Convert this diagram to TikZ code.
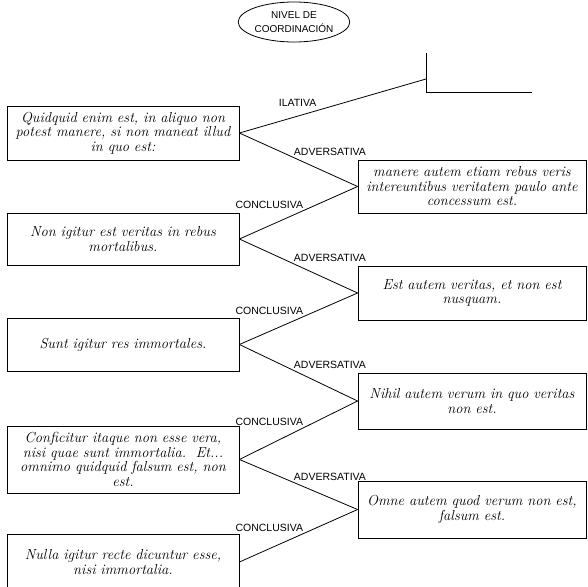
\documentclass[tikz,border=0pt]{standalone}
\usepackage{fontspec}
\newfontfamily\etiqfont{Liberation Sans}
\usetikzlibrary{shapes.geometric, positioning}

\begin{document}
\begin{tikzpicture}[x=1pt, y=-1pt,
    texto/.style={draw, rectangle, line width=0.8pt, align=center, inner sep=0pt,
        font=\fontsize{14.5}{14.5}\selectfont\itshape},
    izq/.style={texto, minimum width=232pt, text width=226pt},
    der/.style={texto, minimum width=228pt, text width=222pt},
    etiq/.style={font=\etiqfont\fontsize{10.5}{12}\selectfont, inner sep=1pt},
    nivel/.style={draw, ellipse, line width=0.8pt, minimum width=105pt, minimum height=40pt,
        inner sep=0pt, align=center, font=\etiqfont\fontsize{10}{14}\selectfont},
    rel/.style={line width=0.8pt}]
                        \useasboundingbox (0, 0) rectangle (588, 586);

                        \node[nivel] (nivel) at (294, 22) {NIVEL DE\\COORDINACIÓN};

                        % columna izquierda
                        \node[izq, minimum height=54pt] (q1) at (123, 133) {Quidquid enim est, in aliquo non\\potest manere, si non maneat illud\\in quo est:};
                        \node[izq, minimum height=52pt] (q2) at (123, 239) {Non igitur est veritas in rebus\\mortalibus.};
                        \node[izq, minimum height=53pt] (q3) at (123, 344.5) {Sunt igitur res immortales.};
                        \node[izq, minimum height=67pt] (q4) at (123, 459.5) {Conficitur itaque non esse vera,\\nisi quae sunt immortalia.\ \ Et...\\omnimo quidquid falsum est, non\\est.};
                        \node[izq, minimum height=56pt] (q5) at (123, 562) {Nulla igitur recte dicuntur esse,\\nisi immortalia.};

                        % columna derecha
                        \node[der, minimum height=53pt] (r1) at (472, 186.5) {manere autem etiam rebus veris\\intereuntibus veritatem paulo ante\\concessum est.};
                        \node[der, minimum height=54pt] (r2) at (472, 293) {Est autem veritas, et non est\\nusquam.};
                        \node[der, minimum height=56pt] (r3) at (472, 401) {Nihil autem verum in quo veritas\\non est.};
                        \node[der, minimum height=57pt] (r4) at (472, 509.5) {Omne autem quod verum non est,\\falsum est.};

                        % corchete de arriba
                        \coordinate (ctop) at (426, 53);
                        \coordinate (cila) at (426, 79);
                        \coordinate (cesq) at (426, 92);
                        \coordinate (cfin) at (532, 92);
                        \draw[rel] (ctop) -- (cesq) -- (cfin);

                        \draw
                        (q1.east) edge[rel] node[etiq, pos=.42, above left, yshift=2pt]{ILATIVA} (cila)
                        (q1.east) edge[rel] node[etiq, pos=.45, above right]{ADVERSATIVA} (r1.west)
                        (q2.east) edge[rel] node[etiq, pos=.55, above left]{CONCLUSIVA} (r1.west)
                        (q2.east) edge[rel] node[etiq, pos=.45, above right]{ADVERSATIVA} (r2.west)
                        (q3.east) edge[rel] node[etiq, pos=.55, above left]{CONCLUSIVA} (r2.west)
                        (q3.east) edge[rel] node[etiq, pos=.45, above right]{ADVERSATIVA} (r3.west)
                        (q4.east) edge[rel] node[etiq, pos=.55, above left]{CONCLUSIVA} (r3.west)
                        (q4.east) edge[rel] node[etiq, pos=.45, above right]{ADVERSATIVA} (r4.west)
                        (q5.east) edge[rel] node[etiq, pos=.55, above left]{CONCLUSIVA} (r4.west);
                    \end{tikzpicture}
\end{document}
